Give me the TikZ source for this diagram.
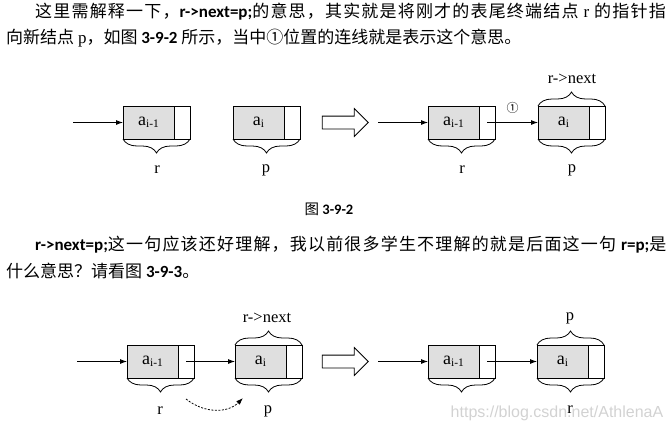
\documentclass[tikz,border=0pt]{standalone}
\usepackage{fontspec}
\setmainfont{Liberation Serif}
\setsansfont{Liberation Sans}
\newfontfamily\cjk{Noto Sans CJK SC}
\newfontfamily\cjkwide[LetterSpace=7]{Noto Sans CJK SC}
\newfontfamily\latb{Carlito}
\usepackage{xcolor}
\usepackage{tikz}
\usetikzlibrary{arrows.meta,positioning,shapes.arrows,decorations.pathreplacing}
\newcommand\idx[1]{\raisebox{-2.5pt}{\fontsize{11.5}{11.5}\selectfont #1}}

\begin{document}
\begin{tikzpicture}[
x=1pt,y=-1pt,
datapart/.style={draw,fill=gray!25,minimum width=51pt,minimum height=33pt,inner sep=0pt,outer sep=0pt,anchor=west,line width=.8pt,font=\fontsize{18}{18}\selectfont},
ptrpart/.style={draw,minimum width=16pt,minimum height=33pt,inner sep=0pt,outer sep=0pt,line width=.8pt},
arrow/.style={-{Latex[length=7pt,width=5pt]},line width=.8pt},
brace/.style={decorate,decoration={brace,amplitude=14pt},line width=.8pt},
lbl/.style={font=\fontsize{16.5}{16.5}\selectfont},
txt/.style={anchor=base west,inner sep=0pt,font=\fontsize{17}{17}\selectfont},
hollow/.style={single arrow,draw,fill=white,line width=.8pt,minimum height=46pt,inner xsep=0pt,inner ysep=6pt,text height=0pt,text depth=0pt,single arrow head extend=7.5pt,single arrow head indent=0pt}
]
\useasboundingbox (0,0) rectangle (672,432);

% text above and between the figures
\node[txt] (t1) at (35,17) {\cjkwide 这里需解释一下，{\latb\bfseries r->next=p;}的意思，其实就是将刚才的表尾终端结点 {\rmfamily r} 的指针指};
\node[txt] (t2) at (6,43.5) {\cjk 向新结点 {\rmfamily p}，如图 {\latb\bfseries 3-9-2} 所示，当中①位置的连线就是表示这个意思。};
\node[font=\fontsize{14.5}{14.5}\selectfont] (cap) at (329,209) {\cjk 图 {\latb\bfseries 3-9-2}};
\node[txt] (t3) at (35,250.5) {\cjkwide {\latb\bfseries r->next=p;}这一句应该还好理解，我以前很多学生不理解的就是后面这一句 {\latb\bfseries r=p;}是};
\node[txt] (t4) at (6,277.5) {\cjk 什么意思？请看图 {\latb\bfseries 3-9-3}。};
\node[font=\sffamily\fontsize{16}{16}\selectfont,text=gray!35] (wm) at (557,413) {https://blog.csdn.net/AthlenaA};

% figure 3-9-2, left half
\node[datapart] (a1) at (123,122.5) {a\idx{i-1}};
\node[ptrpart,right=0pt of a1] (a1n) {};
\node[datapart] (b1) at (233,122.5) {a\idx{i}};
\node[ptrpart,right=0pt of b1] (b1n) {};
\coordinate (s1) at (73,122.5);
\draw[arrow] (s1) -- (a1);
\draw[brace] (a1n.south east) -- (a1.south west);
\draw[brace] (b1n.south east) -- (b1.south west);
\node[lbl] (ra1) at (157,170) {r};
\node[lbl] (pb1) at (266,170) {p};
\node[hollow] (go1) at (342,122.5) {};

% figure 3-9-2, right half
\node[datapart] (c1) at (428,122.5) {a\idx{i-1}};
\node[ptrpart,right=0pt of c1] (c1n) {};
\node[datapart] (d1) at (538,122.5) {a\idx{i}};
\node[ptrpart,right=0pt of d1] (d1n) {};
\coordinate (s2) at (378,122.5);
\draw[arrow] (s2) -- (c1);
\draw[arrow] (c1n.center) -- node[above=5pt,font=\cjk\fontsize{12}{12}\selectfont]{①} (d1);
\draw[brace] (c1n.south east) -- (c1.south west);
\draw[brace] (d1n.south east) -- (d1.south west);
\draw[brace] (d1.north west) -- (d1n.north east);
\node[lbl] (rc1) at (462,170) {r};
\node[lbl] (pd1) at (572,170) {p};
\node[lbl] (nd1) at (572,79) {r->next};

% figure 3-9-3, left half
\node[datapart] (a2) at (127,361.5) {a\idx{i-1}};
\node[ptrpart,right=0pt of a2] (a2n) {};
\node[datapart] (b2) at (235,361.5) {a\idx{i}};
\node[ptrpart,right=0pt of b2] (b2n) {};
\coordinate (s3) at (77,361.5);
\draw[arrow] (s3) -- (a2);
\draw[arrow] (a2n.center) -- (b2);
\draw[brace] (a2n.south east) -- (a2.south west);
\draw[brace] (b2n.south east) -- (b2.south west);
\draw[brace] (b2.north west) -- (b2n.north east);
\node[lbl] (ra2) at (160,411) {r};
\node[lbl] (pb2) at (268,411) {p};
\node[lbl] (nb2) at (267,318) {r->next};
\coordinate (m1) at (186,399);
\coordinate (m2) at (243,398);
\draw[dashed,dash pattern=on 2pt off 1.5pt,-{Latex[length=7pt,width=5pt]},line width=.8pt] (m1) .. controls (205,414) and (228,413) .. (m2);
\node[hollow] (go2) at (342,361.5) {};

% figure 3-9-3, right half
\node[datapart] (c2) at (428,361.5) {a\idx{i-1}};
\node[ptrpart,right=0pt of c2] (c2n) {};
\node[datapart] (d2) at (537,361.5) {a\idx{i}};
\node[ptrpart,right=0pt of d2] (d2n) {};
\coordinate (s4) at (378,361.5);
\draw[arrow] (s4) -- (c2);
\draw[arrow] (c2n.center) -- (d2);
\draw[brace] (c2n.south east) -- (c2.south west);
\draw[brace] (d2n.south east) -- (d2.south west);
\draw[brace] (d2.north west) -- (d2n.north east);
\node[lbl] (pd2) at (570,318) {p};
\node[lbl] (rd2) at (570,410) {r};
\end{tikzpicture}
\end{document}
